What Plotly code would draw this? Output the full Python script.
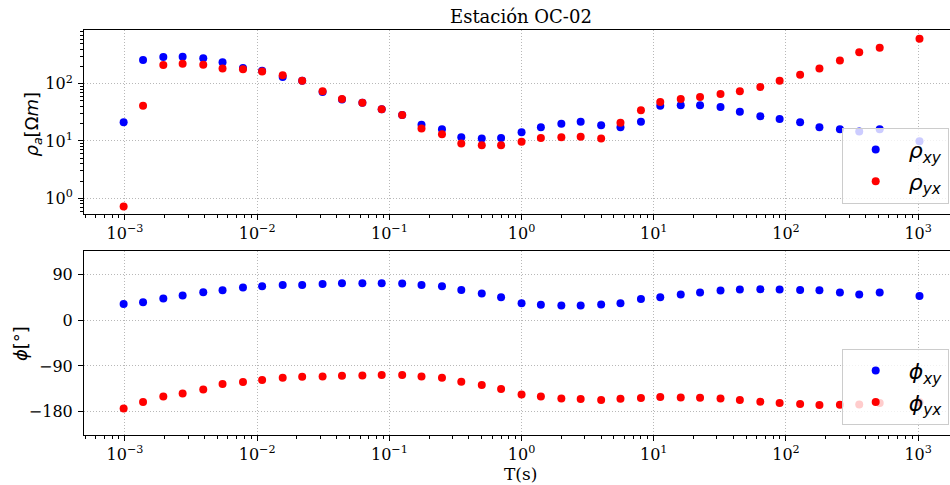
import plotly.graph_objects as go

# ---------------- data ----------------
periods = [0.000977, 0.00137, 0.00195, 0.00273, 0.00391, 0.00547, 0.00781, 0.0109,
           0.0156, 0.0219, 0.03125, 0.0438, 0.0625, 0.0875, 0.125, 0.175, 0.25, 0.35,
           0.5, 0.7, 1.0, 1.4, 2.0, 2.8, 4.0, 5.6, 8.0, 11.2, 16.0, 22.4, 32.0, 44.8,
           64.0, 89.6, 128.0, 179.2, 256.0, 358.4, 512.0, 1024.0]

rho_xy = [21.2, 259, 292, 296, 277, 236, 188, 169, 131, 113, 71.6, 53, 46.7, 35.7,
          28.4, 19.3, 16.0, 11.6, 11.1, 11.3, 14.2, 17.3, 20.0, 21.7, 18.8, 17.3, 21.7,
          41.3, 41.9, 41.9, 39.2, 32.5, 26.9, 24.2, 21.2, 17.3, 16.0, 14.7, 16.0, 9.9]

rho_yx = [0.72, 41.3, 212, 223, 214, 185, 178, 164, 140, 113, 73.5, 54, 46.7, 35.7,
          28.4, 16.6, 13.1, 9.0, 8.4, 8.4, 9.7, 11.3, 11.6, 11.9, 11.1, 20.9, 34.3,
          47.9, 54, 58.5, 66, 73.5, 87.5, 113, 143, 185, 255, 352, 425, 610]

phi_xy = [31.8, 35.1, 42.3, 48.2, 54.7, 58.6, 63.9, 66.5, 69.1, 69.1, 71.0, 72.4, 72.4,
          72.4, 71.7, 69.1, 66.5, 59.3, 52.1, 44.9, 33.1, 29.9, 28.6, 28.6, 30.5, 33.1,
          41.6, 44.9, 50.1, 54.1, 58.0, 59.9, 60.6, 59.9, 59.3, 58.6, 54.1, 50.1, 54.1, 47.5]

phi_yx = [-173.4, -161.0, -149.9, -144.0, -136.1, -125.7, -121.8, -117.8, -113.3, -111.3,
          -110.7, -109.4, -108.7, -108.0, -108.0, -110.7, -113.3, -121.1, -127.7, -135.5,
          -146.0, -149.9, -153.8, -155.1, -157.1, -154.4, -153.1, -151.2, -151.8, -152.5,
          -153.8, -157.1, -160.3, -162.9, -164.9, -166.9, -166.2, -165.6, -162.9, -161.6]

x_tickvals = [1e-3, 1e-2, 1e-1, 1e0, 1e1, 1e2, 1e3]
x_ticktext = ["10<sup>−3</sup>", "10<sup>−2</sup>", "10<sup>−1</sup>", "10<sup>0</sup>",
              "10<sup>1</sup>", "10<sup>2</sup>", "10<sup>3</sup>"]
rho_tickvals = [1, 10, 100]
rho_ticktext = ["10<sup>0</sup>", "10<sup>1</sup>", "10<sup>2</sup>"]
phi_tickvals = [90, 0, -90, -180]
phi_ticktext = ["90", "0", "−90", "−180"]

# ---------------- figure ----------------
BLUE = "#0000ff"
RED = "#ff0000"
MS = 8

fig = go.Figure()
fig.add_trace(go.Scatter(x=periods, y=rho_xy, mode="markers", name="<i>ρ</i><sub><i>xy</i></sub>",
                         marker=dict(color=BLUE, size=MS, line=dict(width=0)),
                         xaxis="x", yaxis="y", legend="legend"))
fig.add_trace(go.Scatter(x=periods, y=rho_yx, mode="markers", name="<i>ρ</i><sub><i>yx</i></sub>",
                         marker=dict(color=RED, size=MS, line=dict(width=0)),
                         xaxis="x", yaxis="y", legend="legend"))
fig.add_trace(go.Scatter(x=periods, y=phi_xy, mode="markers", name="<i>ϕ</i><sub><i>xy</i></sub>",
                         marker=dict(color=BLUE, size=MS, line=dict(width=0)),
                         xaxis="x2", yaxis="y2", legend="legend2"))
fig.add_trace(go.Scatter(x=periods, y=phi_yx, mode="markers", name="<i>ϕ</i><sub><i>yx</i></sub>",
                         marker=dict(color=RED, size=MS, line=dict(width=0)),
                         xaxis="x2", yaxis="y2", legend="legend2"))

minor_log = [m * 10.0 ** e for e in range(-4, 4) for m in range(2, 10)]

tickfont = dict(family="DejaVu Serif", size=16, color="black")
common = dict(showline=True, linecolor="black", linewidth=1,
              ticks="outside", ticklen=5, tickwidth=1, tickcolor="black",
              showgrid=True, gridcolor="#b8b8b8", griddash="1px,2px", gridwidth=1,
              zeroline=False, tickfont=tickfont)

xcommon = dict(common, type="log", range=[-3.310, 3.241], tickmode="array",
               tickvals=x_tickvals, ticktext=x_ticktext, mirror=True,
               minor=dict(tickmode="array", tickvals=minor_log, ticks="outside",
                          ticklen=3, tickwidth=0.8, tickcolor="black", showgrid=False))

legend_style = dict(x=0.9985, xanchor="right", yanchor="bottom",
                    bgcolor="rgba(255,255,255,0.8)", bordercolor="#cccccc", borderwidth=1,
                    font=dict(family="DejaVu Sans", size=22, color="black"),
                    itemwidth=56, tracegroupgap=0)

fig.update_layout(
    width=950, height=485,
    margin=dict(l=84, r=0, t=30, b=50),
    paper_bgcolor="white", plot_bgcolor="white",
    xaxis=dict(xcommon, domain=[0, 1], anchor="y"),
    yaxis=dict(common, type="log", range=[-0.274, 2.937], domain=[0.5457, 1.0],
               tickmode="array", tickvals=rho_tickvals, ticktext=rho_ticktext,
               anchor="x", ticklabelstandoff=2,
               minor=dict(tickmode="array", tickvals=minor_log, ticks="outside",
                          ticklen=3, tickwidth=0.8, tickcolor="black", showgrid=False)),
    xaxis2=dict(xcommon, domain=[0, 1], anchor="y2"),
    yaxis2=dict(common, range=[-225.7, 135.7], domain=[0.0, 0.4543],
                tickmode="array", tickvals=phi_tickvals, ticktext=phi_ticktext,
                anchor="x2", ticklabelstandoff=2),
    legend=dict(legend_style, y=0.571),
    legend2=dict(legend_style, y=0.0254),
    showlegend=True,
)

annotations = [
    dict(text="Estación OC-02", x=0.5046, y=1.0333, xref="paper", yref="paper",
         xanchor="center", yanchor="middle", showarrow=False,
         font=dict(family="DejaVu Serif", size=18, color="black")),
    dict(text="<i>ρ</i><sub><i>a</i></sub>[Ω<i>m</i>]", x=-0.0589, y=0.769, xref="paper",
         yref="paper", xanchor="center", yanchor="middle", textangle=-90, showarrow=False,
         font=dict(family="DejaVu Sans", size=18, color="black")),
    dict(text="<i>ϕ</i>[°]", x=-0.0735, y=0.2254, xref="paper", yref="paper",
         xanchor="center", yanchor="middle", textangle=-90, showarrow=False,
         font=dict(family="DejaVu Sans", size=18, color="black")),
    dict(text="T(s)", x=0.5046, y=-0.0951, xref="paper", yref="paper",
         xanchor="center", yanchor="middle", showarrow=False,
         font=dict(family="DejaVu Serif", size=17, color="black")),
]
fig.update_layout(annotations=annotations)

fig.write_html("out.html")
